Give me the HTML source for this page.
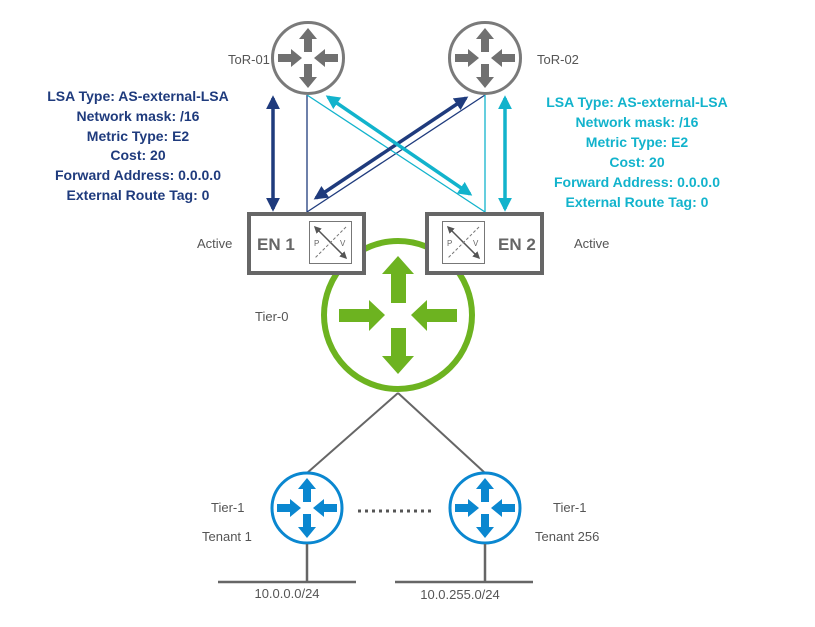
<!DOCTYPE html>
<html><head><meta charset="utf-8"><style>
html,body{margin:0;padding:0;background:#fff}
svg{display:block}
text{font-family:"Liberation Sans",sans-serif}
.g{fill:#555;font-size:13px}
.b{fill:#1f3b7d;font-size:14px;font-weight:bold}
.c{fill:#12b3cc;font-size:14px;font-weight:bold}
</style></head><body>
<svg width="815" height="627" viewBox="0 0 815 627" xmlns="http://www.w3.org/2000/svg">
<defs>
<g id="rarrows">
 <path d="M0,-30 L-9,-19 L-4,-19 L-4,-6 L4,-6 L4,-19 L9,-19 Z"/>
 <path d="M0,30 L-9,19 L-4,19 L-4,6 L4,6 L4,19 L9,19 Z"/>
 <path d="M-6,0 L-17,-9 L-17,-4 L-30,-4 L-30,4 L-17,4 L-17,9 Z"/>
 <path d="M6,0 L17,-9 L17,-4 L30,-4 L30,4 L17,4 L17,9 Z"/>
</g>
<marker id="mb" viewBox="0 0 10 10" refX="8" refY="5" markerWidth="4" markerHeight="4" orient="auto-start-reverse"><path d="M0,0 L10,5 L0,10 Z" fill="#1f3b7d"/></marker>
<marker id="mc" viewBox="0 0 10 10" refX="8" refY="5" markerWidth="4" markerHeight="4" orient="auto-start-reverse"><path d="M0,0 L10,5 L0,10 Z" fill="#12b3cc"/></marker>
<marker id="ms" viewBox="0 0 10 10" refX="8" refY="5" markerWidth="5" markerHeight="5" orient="auto-start-reverse"><path d="M0,0 L10,5 L0,10 Z" fill="#555"/></marker>
</defs>

<line x1="307" y1="95" x2="307" y2="212" stroke="#1f3b7d" stroke-width="1.3"/>
<line x1="307" y1="212" x2="485" y2="95" stroke="#1f3b7d" stroke-width="1.3"/>
<line x1="485" y1="95" x2="485" y2="212" stroke="#12b3cc" stroke-width="1.3"/>
<line x1="485" y1="212" x2="307" y2="95" stroke="#12b3cc" stroke-width="1.3"/>

<line x1="273" y1="98" x2="273" y2="209" stroke="#1f3b7d" stroke-width="3.5" marker-start="url(#mb)" marker-end="url(#mb)"/>
<line x1="505" y1="98" x2="505" y2="209" stroke="#12b3cc" stroke-width="3.5" marker-start="url(#mc)" marker-end="url(#mc)"/>
<line x1="316" y1="198" x2="466" y2="98" stroke="#1f3b7d" stroke-width="3.5" marker-start="url(#mb)" marker-end="url(#mb)"/>
<line x1="328" y1="97" x2="470" y2="194" stroke="#12b3cc" stroke-width="3.5" marker-start="url(#mc)" marker-end="url(#mc)"/>

<circle cx="308" cy="58" r="35.5" fill="#fff" stroke="#7a7a7a" stroke-width="3"/>
<use href="#rarrows" x="308" y="58" fill="#707070"/>
<circle cx="485" cy="58" r="35.5" fill="#fff" stroke="#7a7a7a" stroke-width="3"/>
<use href="#rarrows" x="485" y="58" fill="#707070"/>
<text class="g" x="228" y="64">ToR-01</text>
<text class="g" x="537" y="64">ToR-02</text>

<circle cx="398" cy="315" r="74" fill="#fff" stroke="#6db320" stroke-width="6"/>
<g fill="#6db320">
 <path d="M398,256 L382,274 L391,274 L391,303 L406,303 L406,274 L414,274 Z"/>
 <path d="M398,374 L382,356 L391,356 L391,328 L406,328 L406,356 L414,356 Z"/>
 <path d="M385,315 L369,300 L369,309 L339,309 L339,322 L369,322 L369,331 Z"/>
 <path d="M411,315 L427,300 L427,309 L457,309 L457,322 L427,322 L427,331 Z"/>
</g>
<text class="g" x="255" y="321">Tier-0</text>

<rect x="249" y="214" width="115" height="59" fill="#fff" stroke="#666" stroke-width="4"/>
<rect x="427" y="214" width="115" height="59" fill="#fff" stroke="#666" stroke-width="4"/>
<text x="257" y="250" font-size="17" font-weight="bold" fill="#666">EN 1</text>
<text x="498" y="250" font-size="17" font-weight="bold" fill="#666">EN 2</text>
<g>
 <rect x="309.5" y="221.5" width="42" height="42" fill="#fff" stroke="#777" stroke-width="1"/>
 <line x1="315" y1="227" x2="346" y2="258" stroke="#555" stroke-width="1.5" marker-start="url(#ms)" marker-end="url(#ms)"/>
 <line x1="346" y1="227" x2="315" y2="258" stroke="#777" stroke-width="1" stroke-dasharray="3,2"/>
 <text x="314" y="246" font-size="8" fill="#666">P</text>
 <text x="340" y="246" font-size="8" fill="#666">V</text>
</g>
<g>
 <rect x="442.5" y="221.5" width="42" height="42" fill="#fff" stroke="#777" stroke-width="1"/>
 <line x1="448" y1="227" x2="479" y2="258" stroke="#555" stroke-width="1.5" marker-start="url(#ms)" marker-end="url(#ms)"/>
 <line x1="479" y1="227" x2="448" y2="258" stroke="#777" stroke-width="1" stroke-dasharray="3,2"/>
 <text x="447" y="246" font-size="8" fill="#666">P</text>
 <text x="473" y="246" font-size="8" fill="#666">V</text>
</g>
<text class="g" x="197" y="248">Active</text>
<text class="g" x="574" y="248">Active</text>

<g text-anchor="middle">
 <text class="b" x="138" y="101">LSA Type: AS-external-LSA</text>
 <text class="b" x="138" y="121">Network mask: /16</text>
 <text class="b" x="138" y="141">Metric Type:  E2</text>
 <text class="b" x="138" y="160">Cost: 20</text>
 <text class="b" x="138" y="180">Forward Address: 0.0.0.0</text>
 <text class="b" x="138" y="200">External Route Tag: 0</text>
 <text class="c" x="637" y="107">LSA Type: AS-external-LSA</text>
 <text class="c" x="637" y="127">Network mask: /16</text>
 <text class="c" x="637" y="147">Metric Type:  E2</text>
 <text class="c" x="637" y="167">Cost: 20</text>
 <text class="c" x="637" y="187">Forward Address: 0.0.0.0</text>
 <text class="c" x="637" y="207">External Route Tag: 0</text>
</g>

<line x1="398" y1="393" x2="307" y2="473" stroke="#666" stroke-width="2"/>
<line x1="398" y1="393" x2="485" y2="473" stroke="#666" stroke-width="2"/>

<circle cx="307" cy="508" r="35" fill="#fff" stroke="#0a87d0" stroke-width="3"/>
<use href="#rarrows" x="307" y="508" fill="#0a87d0"/>
<circle cx="485" cy="508" r="35" fill="#fff" stroke="#0a87d0" stroke-width="3"/>
<use href="#rarrows" x="485" y="508" fill="#0a87d0"/>
<line x1="358" y1="511" x2="433" y2="511" stroke="#555" stroke-width="3" stroke-dasharray="3,4"/>

<text class="g" x="211" y="512">Tier-1</text>
<text class="g" x="202" y="541">Tenant 1</text>
<text class="g" x="553" y="512">Tier-1</text>
<text class="g" x="535" y="541">Tenant 256</text>

<line x1="307" y1="544" x2="307" y2="582" stroke="#666" stroke-width="2.5"/>
<line x1="485" y1="544" x2="485" y2="582" stroke="#666" stroke-width="2.5"/>
<line x1="218" y1="582" x2="356" y2="582" stroke="#666" stroke-width="2.5"/>
<line x1="395" y1="582" x2="533" y2="582" stroke="#666" stroke-width="2.5"/>
<text class="g" x="287" y="598" text-anchor="middle">10.0.0.0/24</text>
<text class="g" x="460" y="599" text-anchor="middle">10.0.255.0/24</text>
</svg>
</body></html>
